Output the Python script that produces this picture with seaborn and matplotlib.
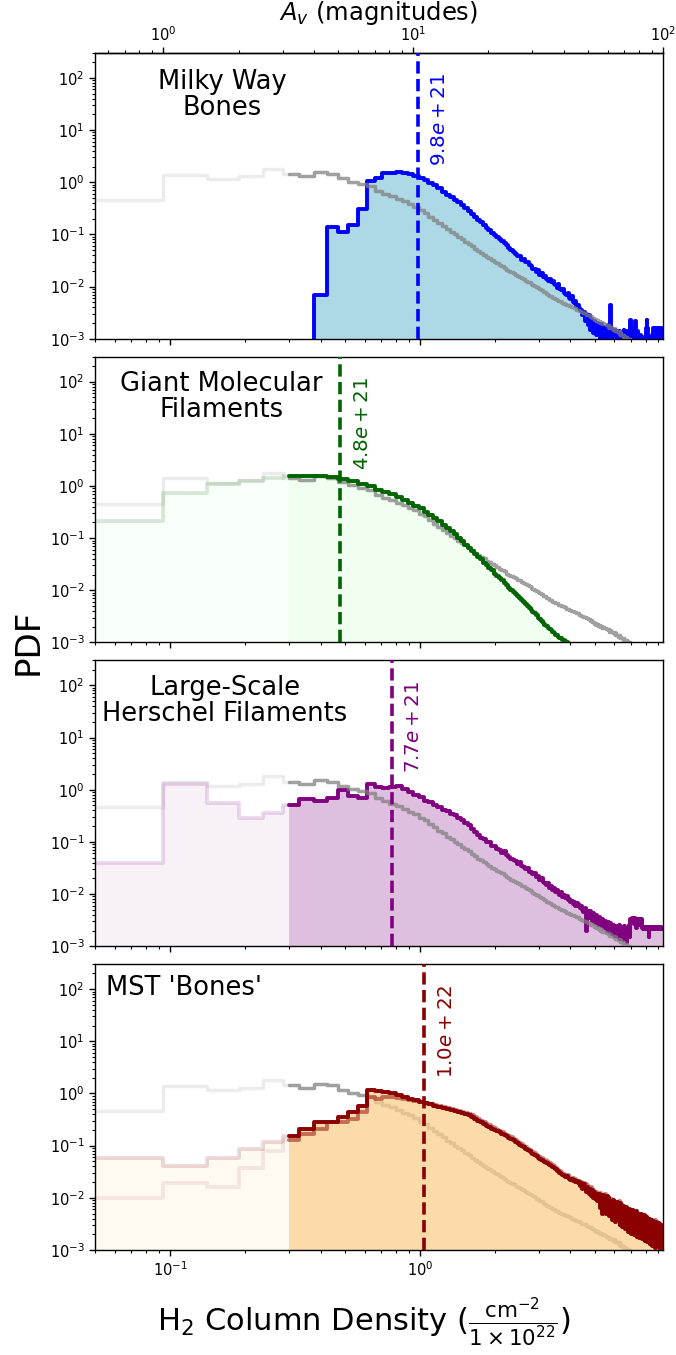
import numpy as np
import pandas as pd
import matplotlib
matplotlib.use("Agg")
import matplotlib.pyplot as plt
import matplotlib.transforms as mtransforms
from matplotlib.ticker import LogLocator, NullFormatter, FixedLocator
import seaborn as sns

# ---------------- data ----------------
bin_width = 0.047          # bin width in units of 1e22 cm^-2 (0.5 mag of A_v)
n_bins = 200
threshold = 0.3            # split between faint / solid part of each PDF
av_factor = 0.094          # N(H2)/1e22 per magnitude of A_v

titles = ["Milky Way\nBones", "Giant Molecular\nFilaments",
          "Large-Scale\nHerschel Filaments", "MST 'Bones'"]
medians = [0.98, 0.48, 0.77, 1.04]
av_ticks = [1, 10, 100]

pdf_all = [
    0.46, 1.4, 1.16, 1.29, 1.8, 1.43, 1.29, 1.54, 1.43, 1.19,
    1.03, 0.93, 0.85, 0.68, 0.6, 0.54, 0.48, 0.43, 0.38, 0.34,
    0.29, 0.26, 0.22, 0.19, 0.165, 0.145, 0.125, 0.112, 0.1, 0.09,
    0.081, 0.073, 0.066, 0.059, 0.053, 0.048, 0.044, 0.041, 0.037, 0.035,
    0.032, 0.03, 0.028, 0.026, 0.025, 0.023, 0.021, 0.02, 0.019, 0.018,
    0.017, 0.016, 0.0155, 0.0145, 0.014, 0.013, 0.0125, 0.012, 0.0113, 0.0107,
    0.0102, 0.0097, 0.0094, 0.0088, 0.0085, 0.0079, 0.0077, 0.0071, 0.007, 0.0066,
    0.0065, 0.0061, 0.006, 0.0057, 0.0056, 0.0053, 0.0052, 0.005, 0.0049, 0.0047,
    0.0047, 0.0044, 0.0044, 0.0042, 0.0042, 0.004, 0.004, 0.0038, 0.0038, 0.0036,
    0.0036, 0.0034, 0.0034, 0.0032, 0.0032, 0.0031, 0.0031, 0.0029, 0.0029, 0.0028,
    0.0028, 0.0026, 0.0027, 0.0025, 0.0025, 0.0023, 0.0024, 0.0022, 0.0023, 0.0021,
    0.0022, 0.002, 0.0021, 0.0019, 0.002, 0.0019, 0.0019, 0.0018, 0.0018, 0.0017,
    0.0018, 0.0016, 0.0017, 0.0016, 0.0016, 0.0015, 0.0016, 0.0014, 0.0015, 0.0014,
    0.0014, 0.0013, 0.0014, 0.0012, 0.0013, 0.0012, 0.0012, 0.0011, 0.0012, 0.0011,
    0.0011, 0.001, 0.0011, 0.001, 0.001, 0.00095, 0.001, 0.0009, 0.00095, 0.00085,
    0.0009, 0.0008, 0.00085, 0.00075, 0.0008, 0.0007, 0.00075, 0.00065, 0.0007, 0.0006,
    0.0006, 0.00055, 0.0006, 0.0005, 0.00055, 0.0005, 0.0005, 0.00045, 0.0005, 0.00045,
    0.00045, 0.0004, 0.00045, 0.0004, 0.0004, 0.00035, 0.0004, 0.00035, 0.00035, 0.0003,
    0.0003, 0.0003, 0.00025, 0.0003, 0.00025, 0.00025, 0.0002, 0.00025, 0.0002, 0.0002,
    0.0002, 0.0002, 0.00015, 0.0002, 0.00015, 0.00015, 0.00015, 0.0001, 0.00015, 0.0001,
]

pdf_mw_bones = [
    0, 0, 0, 0, 0, 0, 0, 0.0068, 0.136, 0.11,
    0.15, 0.3, 1.06, 1.23, 1.48, 1.5, 1.55, 1.5, 1.42, 1.32,
    1.2, 1.1, 0.98, 0.88, 0.76, 0.66, 0.58, 0.52, 0.46, 0.41,
    0.36, 0.32, 0.28, 0.25, 0.22, 0.19, 0.17, 0.15, 0.135, 0.12,
    0.107, 0.099, 0.09, 0.082, 0.075, 0.068, 0.062, 0.056, 0.05, 0.046,
    0.043, 0.038, 0.039, 0.033, 0.034, 0.029, 0.03, 0.026, 0.025, 0.022,
    0.022, 0.019, 0.021, 0.017, 0.018, 0.015, 0.016, 0.014, 0.013, 0.014,
    0.012, 0.013, 0.011, 0.0105, 0.0095, 0.011, 0.0088, 0.0085, 0.009, 0.0075,
    0.0072, 0.0068, 0.0075, 0.006, 0.0058, 0.0065, 0.005, 0.0048, 0.0052, 0.0042,
    0.0045, 0.0038, 0.0036, 0.0035, 0.0028, 0.0032, 0.0022, 0.003, 0.0025, 0.0018,
    0.0028, 0.0015, 0.0024, 0.002, 0.0013, 0.0022, 0.0018, 0.0012, 0.002, 0.0015,
    0.0016, 0.001, 0.0019, 0.0014, 0.0011, 0.0017, 0.0009, 0.0015, 0.0012, 0.0018,
    0.001, 0.0013, 0.0045, 0.0016, 0.0011, 0.0014, 0.0007, 0.0012, 0.0015, 0.0009,
    0.0012, 0.0008, 0.0014, 0.001, 0, 0.0013, 0.0011, 0.0007, 0.0015, 0.001,
    0, 0.0012, 0.0009, 0.0014, 0, 0.0011, 0.001, 0.0023, 0.0013, 0,
    0.0011, 0.0016, 0, 0.0012, 0.0022, 0.0009, 0, 0.0014, 0.0011, 0,
    0, 0.0012, 0.0009, 0, 0.0011, 0, 0.0008, 0.001, 0, 0,
    0.0016, 0.0023, 0.0016, 0, 0, 0.0009, 0, 0, 0.0011, 0,
    0.0012, 0.0016, 0.0016, 0, 0.0013, 0.0016, 0, 0, 0.0015, 0.0016,
    0, 0.0016, 0.0015, 0.0016, 0, 0.0013, 0.0016, 0.0016, 0.0015, 0,
]

pdf_gmf = [
    0.21, 0.72, 1.07, 1.24, 1.44, 1.55, 1.55, 1.55, 1.5, 1.38,
    1.25, 1.1, 0.98, 0.85, 0.76, 0.69, 0.62, 0.55, 0.47, 0.41,
    0.37, 0.32, 0.28, 0.245, 0.21, 0.18, 0.155, 0.135, 0.118, 0.102,
    0.087, 0.075, 0.065, 0.057, 0.05, 0.044, 0.039, 0.034, 0.03, 0.027,
    0.024, 0.021, 0.019, 0.017, 0.0155, 0.014, 0.0125, 0.0113, 0.0102, 0.0093,
    0.0085, 0.0078, 0.0071, 0.0065, 0.006, 0.0055, 0.005, 0.0046, 0.0042, 0.0039,
    0.0036, 0.0033, 0.003, 0.0028, 0.0026, 0.0024, 0.0022, 0.0021, 0.0019, 0.0018,
    0.0017, 0.0016, 0.0015, 0.0014, 0.0014, 0.0013, 0.0012, 0.0012, 0.0011, 0.0011,
    0.00105, 0.001, 0.00098, 0.00093, 0.0009, 0.00085, 0.0008, 0.00075, 0.0007, 0.00065,
    0.0006, 0.0006, 0.00055, 0.00055, 0.0005, 0.0005, 0.00045, 0.00045, 0.0004, 0.0004,
    0.0004, 0.00035, 0.00035, 0.00035, 0.0003, 0.0003, 0.0003, 0.00028, 0.00027, 0.00026,
    0.00025, 0.00024, 0.00023, 0.00022, 0.00021, 0.0002, 0.0002, 0.00019, 0.00018, 0.00018,
    0.00017, 0.00017, 0.00016, 0.00016, 0.00015, 0.00015, 0.00014, 0.00014, 0.00013, 0.00013,
    0.00012, 0.00012, 0.00012, 0.00011, 0.00011, 0.00011, 0.0001, 0.0001, 0.0001, 0.0001,
    0.0001, 0.0001, 0.0001, 0.0001, 0.0001, 0.0001, 0.0001, 0.0001, 0.0001, 0.0001,
    0.0001, 0.0001, 0.0001, 0.0001, 0.0001, 0.0001, 0.0001, 0.0001, 0.0001, 0.0001,
    0.0001, 0.0001, 0.0001, 0.0001, 0.0001, 0.0001, 0.0001, 0.0001, 0.0001, 0.0001,
    0.0001, 0.0001, 0.0001, 0.0001, 0.0001, 0.0001, 0.0001, 0.0001, 0.0001, 0.0001,
    0.0001, 0.0001, 0.0001, 0.0001, 0.0001, 0.0001, 0.0001, 0.0001, 0.0001, 0.0001,
    0.0001, 0.0001, 0.0001, 0.0001, 0.0001, 0.0001, 0.0001, 0.0001, 0.0001, 0.0001,
]

pdf_herschel = [
    0.04, 1.26, 0.56, 0.29, 0.36, 0.52, 0.65, 0.6, 0.7, 1.0,
    0.76, 0.7, 1.26, 1.12, 1.1, 1.15, 1.2, 1.05, 0.9, 0.8,
    0.72, 0.62, 0.57, 0.5, 0.47, 0.41, 0.39, 0.34, 0.33, 0.29,
    0.26, 0.23, 0.21, 0.18, 0.155, 0.135, 0.12, 0.115, 0.1, 0.098,
    0.085, 0.082, 0.074, 0.07, 0.062, 0.066, 0.055, 0.052, 0.048, 0.045,
    0.043, 0.038, 0.041, 0.034, 0.033, 0.03, 0.031, 0.026, 0.027, 0.024,
    0.025, 0.021, 0.022, 0.019, 0.02, 0.017, 0.016, 0.015, 0.016, 0.013,
    0.014, 0.012, 0.013, 0.011, 0.012, 0.0105, 0.0095, 0.011, 0.0088, 0.0098,
    0.0085, 0.009, 0.0078, 0.0082, 0.007, 0.0075, 0.0065, 0.0071, 0.006, 0.0068,
    0.0058, 0.0062, 0.0055, 0.0058, 0.005, 0.0045, 0.0055, 0.002, 0.0048, 0.0042,
    0.0035, 0.0047, 0.0038, 0.003, 0.0043, 0.0033, 0.0028, 0.0039, 0.0032, 0.0026,
    0.0036, 0.0029, 0.0024, 0.0033, 0.0027, 0.0022, 0.0031, 0.0025, 0.002, 0.0029,
    0.0023, 0.0019, 0.0028, 0.0021, 0.0017, 0.0026, 0.002, 0.0016, 0.0024, 0.0018,
    0.0022, 0.0015, 0.0025, 0.0019, 0.0014, 0.0023, 0.0017, 0.0021, 0.0013, 0.0024,
    0.0016, 0.002, 0.0012, 0.0022, 0.0017, 0.0026, 0.0015, 0.0033, 0.0028, 0.0035,
    0.0029, 0.0034, 0.0027, 0.0035, 0.0031, 0.0022, 0.0034, 0.0028, 0.0033, 0.0026,
    0.0034, 0.003, 0.0025, 0.0033, 0.0022, 0.0021, 0.0023, 0.0022, 0.0021, 0.0023,
    0.0022, 0.0021, 0.0023, 0.0022, 0.0015, 0.0022, 0.0023, 0.0021, 0.0022, 0.0023,
    0.0022, 0.0021, 0.0023, 0.0022, 0.0022, 0.0021, 0.0023, 0.0022, 0.0021, 0.0022,
    0.0023, 0.0021, 0.0022, 0.0022, 0.0021, 0.0023, 0.0022, 0.0021, 0.0022, 0.0022,
]

pdf_mst_a = [
    0.057, 0.04, 0.059, 0.085, 0.118, 0.15, 0.21, 0.28, 0.29, 0.36,
    0.44, 0.58, 1.18, 1.13, 1.08, 1.0, 0.93, 0.86, 0.8, 0.74,
    0.7, 0.66, 0.62, 0.58, 0.55, 0.52, 0.5, 0.48, 0.46, 0.45,
    0.43, 0.41, 0.38, 0.36, 0.33, 0.3, 0.28, 0.26, 0.24, 0.23,
    0.21, 0.2, 0.19, 0.18, 0.17, 0.16, 0.15, 0.14, 0.135, 0.128,
    0.12, 0.113, 0.105, 0.1, 0.093, 0.088, 0.082, 0.078, 0.073, 0.069,
    0.066, 0.062, 0.059, 0.056, 0.053, 0.051, 0.049, 0.047, 0.045, 0.043,
    0.041, 0.039, 0.037, 0.035, 0.033, 0.032, 0.03, 0.028, 0.027, 0.026,
    0.025, 0.026, 0.024, 0.023, 0.022, 0.023, 0.021, 0.022, 0.02, 0.021,
    0.019, 0.02, 0.017, 0.019, 0.015, 0.018, 0.016, 0.013, 0.016, 0.014,
    0.012, 0.015, 0.011, 0.014, 0.01, 0.013, 0.0095, 0.012, 0.0085, 0.011,
    0.012, 0.0065, 0.0105, 0.005, 0.0115, 0.0072, 0.0095, 0.0048, 0.011, 0.0068,
    0.0098, 0.0045, 0.0085, 0.0058, 0.0038, 0.0092, 0.0055, 0.0078, 0.0035, 0.0072,
    0.0082, 0.0042, 0.0065, 0.003, 0.0078, 0.0048, 0.0028, 0.007, 0.0045, 0.0062,
    0.0025, 0.0068, 0.0038, 0.0055, 0.0022, 0.0062, 0.0035, 0.0048, 0.002, 0.0058,
    0.0032, 0.0052, 0.0019, 0.0045, 0.003, 0.0056, 0.0018, 0.0042, 0.0028, 0.005,
    0.0017, 0.0044, 0.0026, 0.0049, 0.0016, 0.0038, 0.0024, 0.0046, 0.0015, 0.0036,
    0.0022, 0.0042, 0.0014, 0.0034, 0.0025, 0.004, 0.0013, 0.0032, 0.0021, 0.0038,
    0.0012, 0.003, 0.0036, 0.0018, 0.0028, 0.0011, 0.0034, 0.0023, 0.0031, 0.0012,
    0.0027, 0.0033, 0.0016, 0.0025, 0.001, 0.003, 0.0019, 0.0028, 0.0011, 0.0024,
]

pdf_mst_b = [
    0.01, 0.0195, 0.016, 0.038, 0.08, 0.13, 0.17, 0.21, 0.28, 0.29,
    0.33, 0.45, 0.85, 0.77, 0.86, 0.85, 0.82, 0.8, 0.76, 0.73,
    0.7, 0.67, 0.63, 0.6, 0.57, 0.54, 0.52, 0.5, 0.48, 0.47,
    0.45, 0.43, 0.4, 0.38, 0.35, 0.32, 0.3, 0.28, 0.26, 0.245,
    0.225, 0.215, 0.2, 0.19, 0.18, 0.17, 0.16, 0.15, 0.145, 0.137,
    0.13, 0.12, 0.113, 0.107, 0.1, 0.095, 0.088, 0.084, 0.079, 0.074,
    0.071, 0.067, 0.063, 0.06, 0.057, 0.055, 0.053, 0.05, 0.048, 0.046,
    0.044, 0.042, 0.04, 0.038, 0.036, 0.034, 0.032, 0.031, 0.029, 0.028,
    0.027, 0.026, 0.027, 0.025, 0.024, 0.023, 0.024, 0.022, 0.023, 0.021,
    0.02, 0.021, 0.019, 0.02, 0.018, 0.019, 0.017, 0.018, 0.015, 0.017,
    0.015, 0.014, 0.016, 0.012, 0.014, 0.013, 0.011, 0.013, 0.01, 0.012,
    0.0095, 0.0125, 0.007, 0.0108, 0.0082, 0.0055, 0.0118, 0.0075, 0.0062, 0.0105,
    0.0068, 0.009, 0.0052, 0.0095, 0.0075, 0.0048, 0.0088, 0.006, 0.0082, 0.0045,
    0.0072, 0.0058, 0.0085, 0.0045, 0.006, 0.0075, 0.0038, 0.0066, 0.0052, 0.0035,
    0.0065, 0.0048, 0.0032, 0.0062, 0.0042, 0.0058, 0.0028, 0.0052, 0.0045, 0.0035,
    0.0058, 0.0038, 0.0025, 0.0052, 0.0036, 0.0046, 0.0024, 0.0048, 0.0034, 0.0022,
    0.0046, 0.0032, 0.0042, 0.0021, 0.0044, 0.003, 0.0019, 0.0041, 0.0028, 0.0045,
    0.0029, 0.0018, 0.0038, 0.0027, 0.0017, 0.0039, 0.0026, 0.0035, 0.0016, 0.0029,
    0.0036, 0.0022, 0.0015, 0.0033, 0.0025, 0.0037, 0.0014, 0.0029, 0.002, 0.0034,
    0.0019, 0.003, 0.0013, 0.0026, 0.0032, 0.0015, 0.0027, 0.0021, 0.0012, 0.0028,
]

# ---------------- style ----------------
sns.set_theme(style="ticks")
plt.rcParams["font.family"] = ["DejaVu Sans"]
plt.rcParams["mathtext.fontset"] = "dejavusans"
plt.rcParams["axes.edgecolor"] = "black"
plt.rcParams["axes.linewidth"] = 1.0
plt.rcParams["xtick.color"] = "black"
plt.rcParams["ytick.color"] = "black"
plt.rcParams["xtick.labelcolor"] = "black"
plt.rcParams["ytick.labelcolor"] = "black"
plt.rcParams["text.color"] = "black"
plt.rcParams["axes.labelcolor"] = "black"

edges = bin_width * np.arange(1, n_bins + 2)


def part(values, lo, hi):
    e = np.clip(edges, lo, hi)
    keep = e[1:] > e[:-1]
    left, right = e[:-1][keep], e[1:][keep]
    v = np.asarray(values, dtype=float)[keep]
    df = pd.DataFrame({"N": (left + right) / 2, "pdf": v})
    return df, [float(b) for b in np.append(left, right[-1])]


def step(ax, values, lo, hi, color, alpha, lw, z):
    df, b = part(values, lo, hi)
    sns.histplot(data=df, x="N", weights="pdf", bins=b, element="step",
                 fill=False, color=color, alpha=alpha, linewidth=lw,
                 zorder=z, ax=ax)


def fill(ax, values, lo, hi, color, alpha, z):
    df, b = part(values, lo, hi)
    sns.histplot(data=df, x="N", weights="pdf", bins=b, element="step",
                 fill=True, color=color, alpha=alpha, edgecolor="none",
                 linewidth=0, zorder=z, ax=ax)


fig = plt.figure(figsize=(6.76, 13.55), dpi=100)
axes = fig.subplots(4, 1, sharex=True)
fig.subplots_adjust(left=0.1405, right=0.9808, top=0.9609, bottom=0.0775,
                    hspace=0.063)

LO, HI = 0.0, 20.0
lw_c, lw_g = 2.8, 2.5

# Panel 1 : Milky Way Bones
ax = axes[0]
fill(ax, pdf_mw_bones, threshold, HI, "lightblue", 1.0, 1)
step(ax, pdf_mw_bones, threshold, HI, "blue", 1.0, lw_c, 2)
step(ax, pdf_all, LO, threshold, "gray", 0.15, lw_g, 3)
step(ax, pdf_all, threshold, HI, "gray", 0.75, lw_g, 3)

# Panel 2 : Giant Molecular Filaments
ax = axes[1]
fill(ax, pdf_gmf, LO, threshold, "honeydew", 0.4, 1)
fill(ax, pdf_gmf, threshold, HI, "honeydew", 1.0, 1)
step(ax, pdf_all, LO, threshold, "gray", 0.15, lw_g, 2)
step(ax, pdf_all, threshold, HI, "gray", 0.75, lw_g, 2)
step(ax, pdf_gmf, LO, threshold, "darkgreen", 0.15, lw_c, 3)
step(ax, pdf_gmf, threshold, HI, "darkgreen", 1.0, lw_c, 3)

# Panel 3 : Large-Scale Herschel Filaments
ax = axes[2]
fill(ax, pdf_herschel, LO, threshold, "purple", 0.05, 1)
fill(ax, pdf_herschel, threshold, HI, "purple", 0.25, 1)
step(ax, pdf_herschel, LO, threshold, "purple", 0.15, lw_c, 2)
step(ax, pdf_herschel, threshold, HI, "purple", 1.0, lw_c, 2)
step(ax, pdf_all, LO, threshold, "gray", 0.15, lw_g, 3)
step(ax, pdf_all, threshold, HI, "gray", 0.75, lw_g, 3)

# Panel 4 : MST 'Bones'
ax = axes[3]
step(ax, pdf_all, LO, threshold, "gray", 0.15, lw_g, 1)
step(ax, pdf_all, threshold, HI, "gray", 0.75, lw_g, 1)
fill(ax, pdf_mst_a, LO, threshold, "#fcd08e", 0.12, 2)
fill(ax, pdf_mst_a, threshold, HI, "#fcd08e", 0.75, 2)
step(ax, pdf_mst_b, LO, threshold, "darkred", 0.08, lw_c, 3)
step(ax, pdf_mst_b, threshold, HI, "darkred", 0.5, lw_c, 3)
step(ax, pdf_mst_a, LO, threshold, "darkred", 0.15, lw_c, 4)
step(ax, pdf_mst_a, threshold, HI, "darkred", 1.0, lw_c, 4)

line_colors = ["blue", "darkgreen", "purple", "darkred"]
title_pos = [(0.224, 0.853), (0.223, 0.858), (0.229, 0.858), (0.157, 0.916)]

for i, ax in enumerate(axes):
    ax.set_xscale("log")
    ax.set_yscale("log")
    ax.set_xlim(0.05, 9.4)
    ax.set_ylim(1e-3, 300)
    ax.set_xlabel("")
    ax.set_ylabel("")
    ax.yaxis.set_major_locator(LogLocator(base=10, numticks=10))
    ax.yaxis.set_minor_locator(LogLocator(base=10, subs=np.arange(2, 10), numticks=20))
    ax.yaxis.set_minor_formatter(NullFormatter())
    ax.tick_params(axis="both", which="major", direction="out", length=4,
                   width=1, labelsize=10.5, labelcolor="black")
    ax.tick_params(axis="both", which="minor", direction="out", length=2,
                   width=0.8)
    for s in ax.spines.values():
        s.set_visible(True)
        s.set_color("black")
    med = medians[i]
    ax.axvline(med, color=line_colors[i], linestyle=(0, (3.4, 1.5)),
               linewidth=2.6, zorder=5)
    trans = mtransforms.blended_transform_factory(ax.transData, ax.transAxes)
    ax.text(med * 1.226, 0.93, f"${med * 1e22:.1e}$", transform=trans,
            rotation=90, ha="center", va="top", color=line_colors[i],
            fontsize=14.3, zorder=6)
    ax.text(title_pos[i][0], title_pos[i][1], titles[i], transform=ax.transAxes,
            ha="center", va="center", multialignment="center",
            fontsize=18.5, linespacing=1.0, color="black", zorder=6)

for ax in axes[:-1]:
    ax.tick_params(axis="x", which="both", labelbottom=False)

sec = axes[0].secondary_xaxis("top", functions=(lambda x: x / av_factor,
                                                 lambda a: a * av_factor))
sec.xaxis.set_major_locator(FixedLocator(av_ticks))
sec.set_xlabel(r"$A_v$ (magnitudes)", fontsize=17.5, labelpad=4,
               color="black")
sec.tick_params(axis="x", which="major", direction="out", length=4, width=1,
                labelsize=10.5, labelcolor="black", pad=2.5)
sec.tick_params(axis="x", which="minor", direction="out", length=2, width=0.8)

fig.text(0.042, 0.526, "PDF", rotation=90, fontsize=24.5, ha="center",
         va="center", color="black")
fig.text(0.538, 0.0235,
         r"H$_2$ Column Density ($\frac{\mathrm{cm^{-2}}}{1\times10^{22}}$)",
         fontsize=22, ha="center", va="center", color="black")

fig.savefig("out.png", dpi=100)
